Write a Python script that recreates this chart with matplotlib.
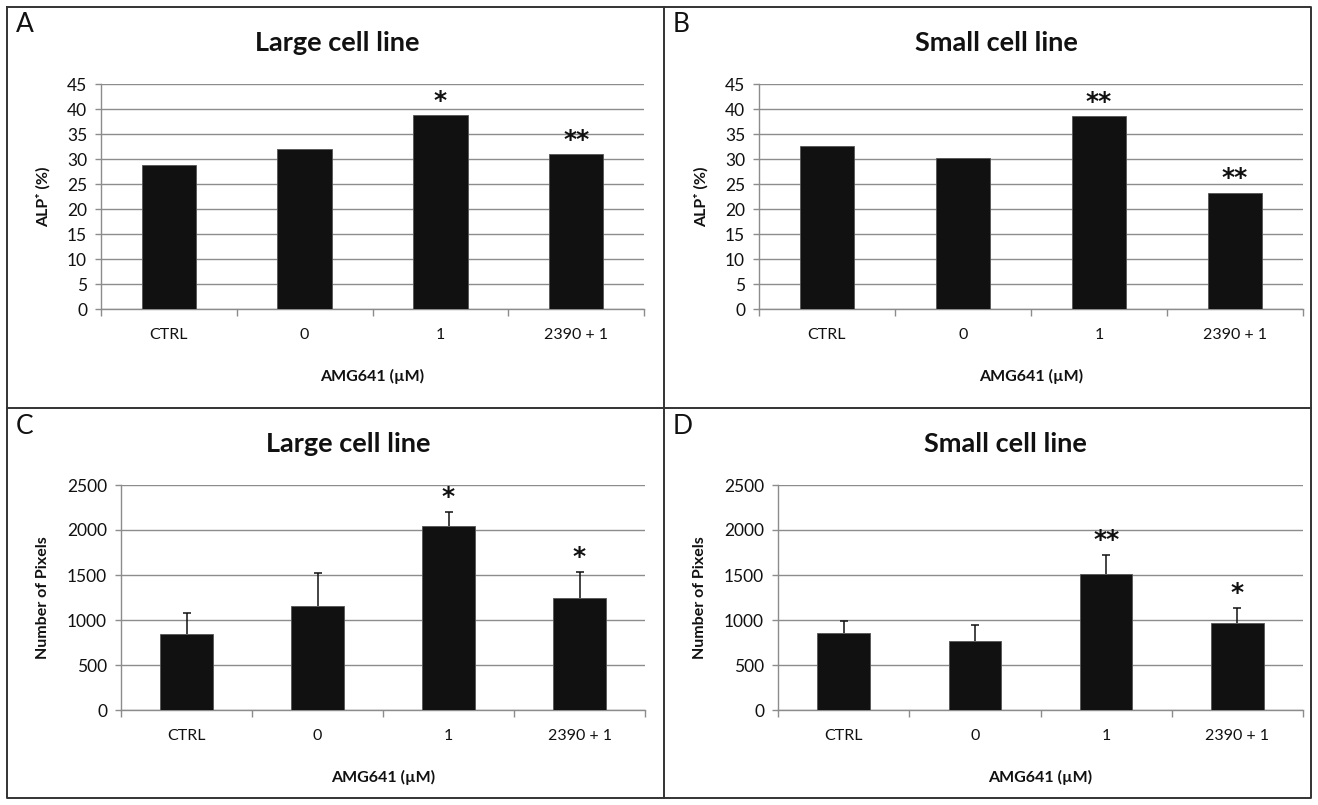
import matplotlib
matplotlib.use("Agg")
import matplotlib.pyplot as plt
from matplotlib.lines import Line2D

plt.rcParams['font.family'] = ['Lato', 'DejaVu Sans']

categories = ["CTRL", "0", "1", "2390 + 1"]

alp_large = [28.7, 31.9, 38.7, 30.9]
alp_small = [32.5, 30.1, 38.5, 23.2]
pix_large = [848, 1155, 2048, 1248]
pix_large_err = [226, 371, 156, 289]
pix_small = [852, 767, 1507, 967]
pix_small_err = [137, 177, 219, 166]

stars_A = ["", "", "*", "**"]
stars_B = ["", "", "**", "**"]
stars_C = ["", "", "*", "*"]
stars_D = ["", "", "**", "*"]

panel_letters = ["A", "B", "C", "D"]
titles = ["Large cell line", "Small cell line", "Large cell line", "Small cell line"]
ylabels = ["ALP\u207a (%)", "ALP\u207a (%)", "Number of Pixels", "Number of Pixels"]
xlabel = "AMG641 (\u00b5M)"

W, H = 1318, 805
fig = plt.figure(figsize=(W / 100, H / 100), dpi=100)


def frac(l, r, t, b):
    return [l / W, 1 - b / H, (r - l) / W, (b - t) / H]


# pixel boxes: left, right, top, bottom
boxes = [(101, 644, 84, 309), (759, 1303, 84, 309),
         (121, 645, 485, 710), (778, 1303, 485, 710)]
panel_x = [(7, 664), (664, 1311), (7, 664), (664, 1311)]
panel_top = [7, 7, 408, 408]

specs = [
    (alp_large, None, stars_A, 45, 5),
    (alp_small, None, stars_B, 45, 5),
    (pix_large, pix_large_err, stars_C, 2500, 500),
    (pix_small, pix_small_err, stars_D, 2500, 500),
]

grid_c = "#8c8c8c"
for i, (vals, errs, stars, ymax, step) in enumerate(specs):
    l, r, t, b = boxes[i]
    ax = fig.add_axes(frac(l, r, t, b))
    x = list(range(len(categories)))
    ax.bar(x, vals, width=0.4, color="#111111", edgecolor="#555555",
           linewidth=0.6, zorder=3)
    tops = list(vals)
    if errs is not None:
        _, caps, _ = ax.errorbar(x, vals, yerr=[[0] * len(errs), errs],
                                 fmt="none", ecolor="#111111", elinewidth=1.1,
                                 capsize=2.6, capthick=1.1, zorder=2.5)
        if len(caps) == 2:
            caps[0].set_visible(False)
        tops = [v + e for v, e in zip(vals, errs)]
    for xi, tp, s in zip(x, tops, stars):
        if s:
            ax.annotate(s, (xi, tp), xytext=(0, 2), textcoords="offset points",
                        ha="center", va="bottom", fontsize=18,
                        fontweight="bold", family=["DejaVu Sans"],
                        color="#111111", zorder=5)
    ax.set_xlim(-0.5, len(categories) - 0.5)
    ax.set_ylim(0, ymax)
    ax.set_yticks(list(range(0, ymax + 1, step)))
    ax.yaxis.grid(True, color=grid_c, linewidth=1.0, zorder=0)
    ax.set_axisbelow(True)
    for sp in ["top", "right"]:
        ax.spines[sp].set_visible(False)
    for sp in ["left", "bottom"]:
        ax.spines[sp].set_color(grid_c)
        ax.spines[sp].set_linewidth(1.0)
    ax.set_xticks([k - 0.5 for k in range(len(categories) + 1)])
    ax.set_xticklabels([])
    ax.set_xticks(x, minor=True)
    ax.set_xticklabels(categories, minor=True)
    ax.tick_params(axis="x", which="major", length=5, color=grid_c, width=1.0)
    ax.tick_params(axis="x", which="minor", length=0, pad=14, labelsize=11.5,
                   labelcolor="#111111")
    ax.tick_params(axis="y", length=4, color=grid_c, width=1.0, pad=6,
                   labelsize=12.5, labelcolor="#111111")
    axw = r - l
    axh = b - t
    off = 58 if i in (0, 1) else 78
    ax.set_ylabel(ylabels[i], fontsize=11.5, fontweight="bold",
                  color="#111111", va="center")
    ax.yaxis.set_label_coords(-off / axw, 0.5)
    ax.set_xlabel(xlabel, fontsize=11.5, fontweight="bold", color="#111111",
                  va="center")
    ax.xaxis.set_label_coords(0.5, -67 / axh)
    px0, px1 = panel_x[i]
    fig.text(((l + r) / 2 - 35) / W, 1 - (panel_top[i] + 36) / H, titles[i],
             ha="center", va="center", fontsize=19.5, fontweight="bold",
             color="#111111")
    fig.text((px0 + 9) / W, 1 - (panel_top[i] + 18) / H, panel_letters[i],
             ha="left", va="center", fontsize=19, color="#111111")

# panel borders
lc = "#333333"
lw = 1.4
fig.add_artist(Line2D([7 / W, 1311 / W, 1311 / W, 7 / W, 7 / W],
                      [1 - 7 / H, 1 - 7 / H, 1 - 798 / H, 1 - 798 / H, 1 - 7 / H],
                      color=lc, linewidth=lw))
fig.add_artist(Line2D([664 / W, 664 / W], [1 - 7 / H, 1 - 798 / H], color=lc, linewidth=lw))
fig.add_artist(Line2D([7 / W, 1311 / W], [1 - 408 / H, 1 - 408 / H], color=lc, linewidth=lw))

fig.savefig("out.png", dpi=100)
